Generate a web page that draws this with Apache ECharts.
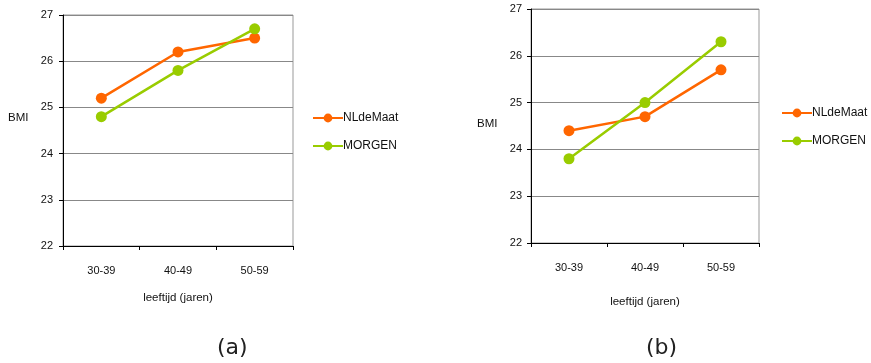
<!DOCTYPE html>
<html><head><meta charset="utf-8">
<script src="https://cdn.jsdelivr.net/npm/echarts@6/dist/echarts.min.js"></script>
<style>html,body{margin:0;padding:0;background:#fff}#c{width:871px;height:363px}</style>
</head><body><div id="c"></div>
<script>
const categories = ['30-39', '40-49', '50-59'];
const yTicks = [22, 23, 24, 25, 26, 27];
const nlA = [25.2, 26.2, 26.5];
const morgenA = [24.8, 25.8, 26.7];
const nlB = [24.4, 24.7, 25.7];
const morgenB = [23.8, 25.0, 26.3];
const seriesNames = ['NLdeMaat', 'MORGEN'];
const panelLabels = ['(a)', '(b)'];

const orange = '#FF6600', green = '#99CC00';
const font = 'Liberation Sans';
const chart = echarts.init(document.getElementById('c'), null, {renderer: 'canvas'});

function xAx(idx, margin, nameGap) {
  return {
    type: 'category', gridIndex: idx, data: categories, boundaryGap: true,
    axisLine: {lineStyle: {color: '#000', width: 1}},
    axisTick: {show: true, length: 4, lineStyle: {color: '#000'}},
    axisLabel: {color: '#111', fontSize: 11, fontFamily: font, margin: margin},
    name: 'leeftijd (jaren)', nameLocation: 'middle', nameGap: nameGap,
    nameTextStyle: {color: '#111', fontSize: 11.5, fontFamily: font}
  };
}
function yAx(idx, margin) {
  return {
    type: 'value', gridIndex: idx, min: yTicks[0], max: yTicks[yTicks.length - 1], interval: 1,
    axisLine: {show: true, lineStyle: {color: '#000', width: 1}},
    axisTick: {show: true, length: 4, lineStyle: {color: '#000'}},
    axisLabel: {color: '#111', fontSize: 11, fontFamily: font, margin: margin},
    splitLine: {show: true, lineStyle: {color: '#888', width: 1}}
  };
}
function ser(name, data, color, idx) {
  return {
    name: name, type: 'line', data: data, xAxisIndex: idx, yAxisIndex: idx,
    symbol: 'circle', symbolSize: 11,
    lineStyle: {color: color, width: 2.5}, itemStyle: {color: color},
    emphasis: {disabled: true}, animation: false
  };
}
function legend(left, top) {
  return {
    orient: 'vertical', left: left, top: top, itemWidth: 30, itemHeight: 11, itemGap: 16,
    data: seriesNames,
    textStyle: {color: '#111', fontSize: 12, fontFamily: font, padding: [0, 0, 0, -5]},
    selectedMode: false
  };
}

chart.setOption({
  animation: false,
  grid: [
    {left: 63, top: 15, width: 230, height: 231, show: true, borderColor: '#999', borderWidth: 1, backgroundColor: 'transparent'},
    {left: 531, top: 9, width: 228, height: 234, show: true, borderColor: '#999', borderWidth: 1, backgroundColor: 'transparent'}
  ],
  xAxis: [xAx(0, 19, 46), xAx(1, 19, 53)],
  yAxis: [yAx(0, 10), yAx(1, 9)],
  legend: [legend(307, 107), legend(776, 102)],
  series: [
    ser(seriesNames[0], nlA, orange, 0),
    ser(seriesNames[1], morgenA, green, 0),
    ser(seriesNames[0], nlB, orange, 1),
    ser(seriesNames[1], morgenB, green, 1)
  ],
  graphic: [
    {type: 'text', left: 8, top: 112, style: {text: 'BMI', fill: '#111', fontSize: 11.5, fontFamily: font}},
    {type: 'text', left: 477, top: 118, style: {text: 'BMI', fill: '#111', fontSize: 11.5, fontFamily: font}},
    {type: 'text', left: 217, top: 337, style: {text: panelLabels[0], fill: '#222', fontSize: 22, fontFamily: 'DejaVu Sans'}},
    {type: 'text', left: 646, top: 337, style: {text: panelLabels[1], fill: '#222', fontSize: 22, fontFamily: 'DejaVu Sans'}}
  ]
});
</script></body></html>
